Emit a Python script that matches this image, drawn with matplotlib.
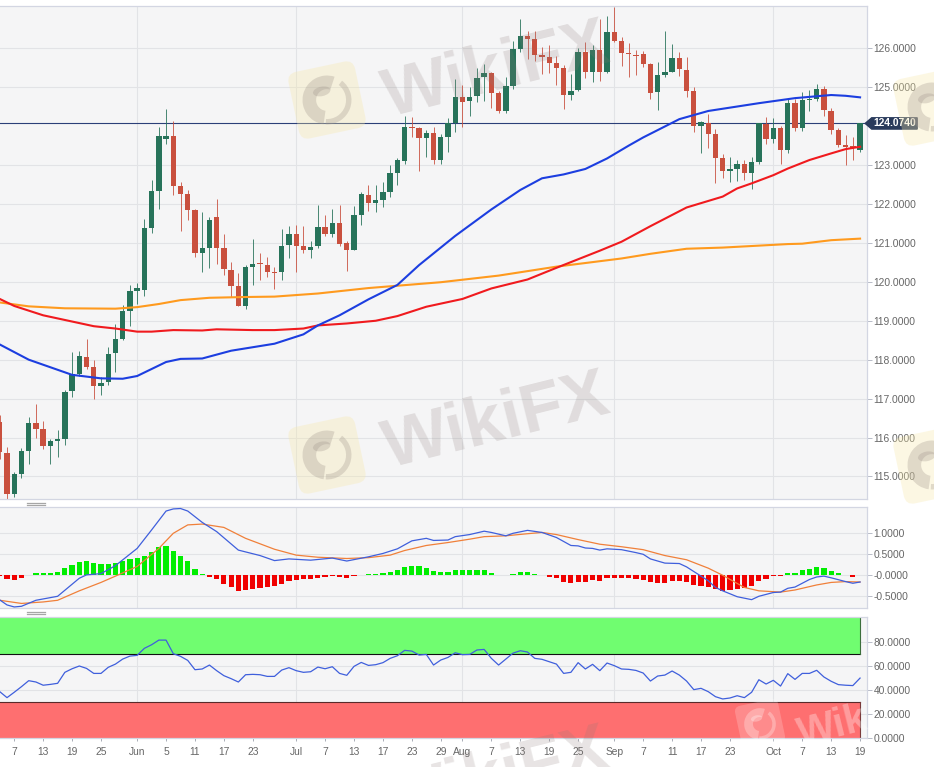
# daily candles with moving averages, MACD and RSI panels
import matplotlib
matplotlib.use("Agg")
import numpy as np
import matplotlib.pyplot as plt
from matplotlib.patches import FancyBboxPatch, Ellipse, Polygon, Wedge
from matplotlib.transforms import Affine2D

plt.rcParams['font.family'] = ['Liberation Sans', 'DejaVu Sans']

candle_open = [116.40,115.59,114.56,115.07,115.66,116.36,116.21,115.79,115.90,115.97,
               117.19,117.64,118.07,117.82,117.33,117.43,118.16,118.54,119.26,119.76,
               119.79,121.38,122.33,123.66,123.75,122.46,122.25,121.84,120.75,120.88,
               121.67,120.88,120.30,119.90,119.38,120.39,120.47,120.43,120.25,120.25,
               120.94,121.24,120.92,120.83,120.92,121.40,121.22,121.52,120.99,120.83,
               121.71,122.24,122.02,122.10,122.32,122.79,123.11,123.99,123.94,123.70,
               123.82,123.12,123.72,124.07,124.74,124.64,124.77,125.27,125.36,124.84,
               124.38,125.02,125.97,126.32,126.23,125.83,125.77,125.61,125.49,124.80,
               124.93,125.90,125.38,125.96,125.40,126.41,126.20,125.87,125.83,125.85,
               125.60,124.88,125.31,125.40,125.75,125.44,124.91,124.01,124.09,123.81,
               123.19,122.85,122.89,123.03,122.80,123.09,124.06,123.68,123.95,123.40,
               124.59,123.94,124.66,124.69,124.95,124.40,123.90,123.51,123.47,123.40]
candle_high = [116.57,115.76,115.12,115.72,116.53,116.85,116.42,115.95,116.19,117.23,
               118.20,118.23,118.52,117.99,117.56,118.33,118.91,119.40,119.92,119.98,
               121.61,122.61,123.99,124.43,124.12,122.57,122.36,121.86,121.80,121.66,
               122.13,121.23,120.52,120.22,120.43,121.09,120.75,120.64,120.39,121.36,
               121.44,121.46,121.43,121.06,121.97,121.71,121.87,121.97,121.06,121.96,
               122.32,122.50,122.50,122.57,123.00,123.17,124.27,124.24,123.99,123.90,
               123.99,123.81,124.20,125.20,125.05,125.00,125.50,125.60,125.40,124.91,
               125.27,126.20,126.75,126.45,126.45,126.04,126.09,125.79,125.57,125.34,
               126.02,126.15,126.09,126.75,126.84,127.05,126.30,126.13,125.96,125.94,
               125.63,125.66,126.45,126.10,125.90,125.77,125.01,124.13,124.30,123.92,
               123.28,123.20,123.14,123.14,123.21,124.09,124.23,124.21,124.00,124.71,
               124.69,124.88,124.93,125.08,125.03,124.47,123.96,123.77,123.71,124.07]
candle_low = [115.46,114.43,114.47,114.97,115.31,116.00,115.70,115.33,115.49,115.80,
              117.04,117.58,117.75,117.00,117.09,117.34,117.69,118.50,118.86,119.43,
              119.63,121.26,121.86,123.54,122.22,121.31,121.60,120.64,120.26,120.35,
              120.47,120.17,119.62,119.37,119.30,119.91,120.04,120.13,119.82,120.04,
              120.60,120.26,120.73,120.60,120.86,121.18,121.14,120.92,120.28,120.83,
              121.46,121.83,121.80,121.91,122.19,122.48,123.04,123.71,122.85,123.21,
              123.02,123.02,123.33,123.84,123.99,124.26,124.63,124.65,124.47,124.33,
              124.35,124.95,125.91,125.72,125.67,125.34,125.37,125.06,124.43,124.67,
              124.91,125.25,125.14,125.17,125.37,126.17,125.55,125.27,125.31,125.51,
              124.70,124.41,125.27,125.38,125.29,124.76,123.86,123.32,123.43,122.53,
              122.66,122.57,122.60,122.62,122.38,123.04,123.54,123.56,123.03,123.32,
              123.88,123.87,124.38,124.65,124.27,123.80,123.47,123.01,123.13,123.33]
candle_close = [115.63,114.56,115.06,115.66,116.38,116.23,115.79,115.90,115.96,117.17,
                117.63,118.09,117.82,117.33,117.39,118.14,118.54,119.26,119.76,119.85,
                121.38,122.33,123.75,123.74,122.47,122.25,121.84,120.75,120.87,121.60,
                120.88,120.32,119.90,119.38,120.37,120.46,120.45,120.25,120.23,120.93,
                121.24,120.92,120.82,120.90,121.40,121.22,121.52,120.97,120.83,121.72,
                122.25,122.02,122.09,122.32,122.79,123.12,123.99,123.94,123.70,123.82,
                123.12,123.71,124.07,124.74,124.63,124.76,125.25,125.36,124.84,124.38,
                125.02,125.97,126.32,126.23,125.83,125.77,125.61,125.49,124.80,124.91,
                125.90,125.38,125.96,125.40,126.41,126.20,125.89,125.85,125.79,125.60,
                124.86,125.31,125.38,125.76,125.46,124.91,124.01,124.10,123.81,123.19,
                122.85,122.90,123.03,122.80,123.09,124.07,123.68,123.95,123.40,124.59,
                123.94,124.66,124.67,124.95,124.41,123.90,123.51,123.46,123.45,124.07]

ma_blue_idx = [0,4,10,14,17,19,21,23,25,28,32,38,42,44,47,51,55,58,63,68,72,75,78,81,84,87,89,94,98,105,110,115,117,119]
ma_blue = [118.39,118.00,117.61,117.52,117.51,117.58,117.76,117.94,118.02,118.03,118.23,118.41,118.65,118.88,
           119.14,119.55,119.92,120.43,121.18,121.86,122.36,122.66,122.76,122.90,123.17,123.50,123.71,124.18,
           124.39,124.59,124.72,124.80,124.78,124.74]
ma_red_idx = [0,2,6,9,13,16,19,21,24,28,30,35,38,42,44,48,52,55,59,64,68,73,77,83,86,90,95,100,102,104,107,109,112,115,117,119]
ma_red = [119.56,119.38,119.14,119.02,118.86,118.80,118.72,118.72,118.76,118.75,118.78,118.76,118.76,118.80,118.88,
          118.93,119.00,119.12,119.36,119.56,119.83,120.06,120.36,120.80,121.03,121.43,121.91,122.19,122.40,122.53,
          122.74,122.91,123.13,123.30,123.41,123.47]
ma_orange_idx = [0,4,9,16,19,22,25,29,34,38,44,51,61,69,77,86,90,95,100,104,109,111,115,119]
ma_orange = [119.47,119.37,119.32,119.31,119.35,119.43,119.53,119.59,119.61,119.62,119.70,119.84,119.99,120.16,
             120.39,120.60,120.72,120.85,120.88,120.92,120.97,120.98,121.07,121.11]

macd_idx = [0,1,2,3,5,8,11,12,14,16,19,21,23,24,25,26,28,30,33,36,38,40,43,46,48,51,53,55,57,59,60,62,63,65,
            67,68,70,71,73,75,77,79,80,81,82,83,84,86,88,89,90,92,94,95,97,98,99,100,102,104,105,107,108,109,110,
            112,113,114,115,117,118,119]
macd_line = [-0.587,-0.706,-0.754,-0.738,-0.595,-0.50,-0.07,0.01,0.04,0.23,0.64,1.08,1.53,1.58,1.59,1.53,1.26,1.04,
             0.60,0.47,0.35,0.39,0.36,0.41,0.34,0.44,0.52,0.63,0.82,0.88,0.83,0.84,0.92,0.97,
             1.05,1.02,0.94,1.00,1.07,1.02,0.90,0.71,0.70,0.65,0.64,0.60,0.63,0.61,0.54,0.50,0.39,0.29,0.28,0.20,
             -0.02,-0.13,-0.29,-0.37,-0.51,-0.58,-0.50,-0.41,-0.40,-0.31,-0.28,-0.10,-0.04,-0.02,-0.06,-0.15,-0.19,-0.16]
signal_idx = [0,3,6,8,11,14,16,19,22,24,26,28,31,34,38,41,44,48,51,54,56,59,62,65,
              67,70,73,75,77,80,83,86,89,92,95,98,100,103,105,108,110,113,115,117,119]
signal_line = [-0.595,-0.67,-0.635,-0.595,-0.37,-0.17,-0.02,0.21,0.64,1.00,1.20,1.22,1.14,0.88,0.62,0.48,0.43,0.40,
               0.42,0.48,0.59,0.71,0.78,0.86,0.92,0.94,0.99,1.02,0.97,0.85,0.74,0.68,0.61,0.47,0.37,0.17,0.0,
               -0.29,-0.37,-0.40,-0.35,-0.23,-0.17,-0.15,-0.16]
macd_hist = [-0.01,-0.10,-0.11,-0.07,0.01,0.06,0.06,0.06,0.08,0.17,0.25,0.32,0.34,0.29,0.27,0.28,0.30,0.35,0.39,0.40,
             0.47,0.56,0.67,0.70,0.59,0.46,0.33,0.14,0.02,-0.03,-0.10,-0.21,-0.29,-0.37,-0.35,-0.32,-0.30,-0.28,-0.26,-0.21,
             -0.13,-0.11,-0.10,-0.09,-0.06,-0.05,-0.02,-0.04,-0.06,-0.02,0.01,0.02,0.04,0.06,0.08,0.13,0.20,0.21,0.21,0.17,
             0.10,0.08,0.09,0.12,0.12,0.12,0.13,0.12,0.06,0.0,0.0,0.03,0.07,0.07,0.04,0.01,-0.05,-0.06,-0.16,-0.19,
             -0.16,-0.16,-0.12,-0.14,-0.07,-0.06,-0.06,-0.07,-0.09,-0.11,-0.17,-0.18,-0.18,-0.13,-0.13,-0.16,-0.24,-0.26,-0.29,-0.33,
             -0.37,-0.36,-0.33,-0.30,-0.26,-0.14,-0.09,-0.02,-0.02,0.06,0.06,0.12,0.16,0.19,0.17,0.11,0.06,0.0,-0.04,0.0]
rsi = [38.5,33.5,38.0,42.7,47.7,46.6,43.9,44.6,45.5,54.7,57.7,60.0,58.0,53.8,53.8,58.9,61.6,65.8,68.3,68.9,
       74.8,77.8,81.7,81.7,70.3,68.1,64.7,56.9,57.5,60.8,56.1,51.9,49.4,46.6,52.7,53.0,52.7,51.3,51.3,56.6,
       58.6,56.1,54.7,55.2,59.1,57.7,59.4,53.8,52.2,59.7,63.0,60.5,61.1,62.8,66.4,68.6,73.1,72.5,69.2,69.7,
       60.8,65.0,67.2,71.1,69.5,69.7,73.4,73.9,66.4,60.8,65.8,70.8,72.8,71.7,66.4,65.6,63.6,61.6,53.8,54.7,
       62.8,57.5,61.4,56.1,62.5,60.3,57.5,57.2,56.3,54.1,47.4,51.6,52.4,55.8,52.4,47.4,40.2,41.3,38.5,34.3,
       32.4,33.2,35.1,33.5,38.0,48.5,44.9,48.0,43.2,53.6,48.8,53.8,53.8,56.4,50.8,47.2,44.4,43.9,43.6,49.9]

tick_idx = [2,6,10,14,19,23,27,31,35,41,45,49,53,57,61,64,68,72,76,80,85,89,93,97,101,107,111,115,119]
tick_labels = ['7','13','19','25','Jun','5','11','17','23','Jul','7','13','17','23','29','Aug',
               '7','13','19','25','Sep','7','11','17','23','Oct','7','13','19']
month_idx = [19,41,64,85,107]
price_ticks = [115,116,117,118,119,120,121,122,123,125,126]
macd_ticks = [-0.5,0.0,0.5,1.0]
macd_tick_labels = ['-0.5000','-0.0000','0.5000','1.0000']
rsi_ticks = [0,20,40,60,80]

W, H = 934, 767
CUP = '#27735a'
CDN = '#c9503e'
GRID = '#e2e3e6'
EDGE = '#d3d6e2'
TXT = '#666666'
x = np.arange(len(candle_close))
last_price = candle_close[-1]

fig = plt.figure(figsize=(W/100, H/100), dpi=100, facecolor='white')

def panel(top, bottom, ylim, ticks, labels):
    ax = fig.add_axes([0, 1-bottom/H, 866.5/W, (bottom-top)/H], facecolor='#f5f5f6')
    ax.set_xlim(0.03, 119.89)
    ax.set_ylim(*ylim)
    ax.yaxis.tick_right()
    ax.set_yticks(ticks)
    ax.set_yticklabels(labels)
    ax.tick_params(axis='y', length=3.6, width=0.7, color='#b8bcc8', labelcolor=TXT, labelsize=7.4, pad=1.5)
    ax.set_xticks(tick_idx)
    ax.tick_params(axis='x', length=0, labelbottom=False)
    ax.grid(False)
    for t in ticks:
        ax.axhline(t, color=GRID, lw=0.8, zorder=0)
    for m in month_idx:
        ax.axvline(m, color=GRID, lw=0.8, zorder=0)
    for s in ax.spines.values():
        s.set_color(EDGE)
        s.set_linewidth(0.9)
    ax.spines['left'].set_visible(False)
    return ax

# price panel
ax1 = panel(5.5, 499, (114.42, 127.10), price_ticks, [f'{p:.4f}' for p in price_ticks])
ax1.axhline(last_price, color='#2b3f78', lw=0.8, zorder=1)
for i in x:
    col = CUP if candle_close[i] >= candle_open[i] else CDN
    ax1.vlines(i, candle_low[i], candle_high[i], color=col, lw=0.7, alpha=0.85, zorder=2)
    lo, hi = sorted((candle_open[i], candle_close[i]))
    ax1.bar(i, max(hi-lo, 0.03), bottom=lo, width=0.74, color=col, lw=0, zorder=3)
ax1.plot(ma_orange_idx, ma_orange, color='#ff9a1e', lw=1.5, zorder=4, solid_joinstyle='round')
ax1.plot(ma_red_idx, ma_red, color='#f01a1e', lw=1.5, zorder=4, solid_joinstyle='round')
ax1.plot(ma_blue_idx, ma_blue, color='#1c3ee0', lw=1.5, zorder=4, solid_joinstyle='round')

# last price tag
ytag = 0.145
tag = Polygon([(0.9985, last_price), (1.006, last_price+ytag), (1.0585, last_price+ytag),
               (1.0585, last_price-ytag), (1.006, last_price-ytag)],
              closed=True, transform=ax1.get_yaxis_transform(), clip_on=False, color='#2a3b5c', zorder=6)
ax1.add_patch(tag)
ax1.text(1.0075, last_price, f'{last_price+0.004:.4f}', transform=ax1.get_yaxis_transform(), color='white',
         fontsize=7.4, fontweight='bold', va='center', ha='left', zorder=7, clip_on=False)

# MACD panel
ax2 = panel(507.3, 608.3, (-0.786, 1.619), macd_ticks, macd_tick_labels)
hist_cols = ['#00ee00' if v >= 0 else '#f00000' for v in macd_hist]
ax2.bar(x, macd_hist, width=0.72, color=hist_cols, lw=0, zorder=2)
ax2.plot(signal_idx, signal_line, color='#f0803a', lw=0.9, zorder=3)
ax2.plot(macd_idx, macd_line, color='#3f5fdc', lw=0.9, zorder=4)

# RSI panel
ax3 = panel(616.7, 738.3, (-0.56, 101.3), rsi_ticks, [f'{r:.4f}' for r in rsi_ticks])
ax3.fill_between([0.03, 119], 70, 100, color='#70fd70', lw=0, zorder=1)
ax3.fill_between([0.03, 119], 0, 30, color='#fe6f70', lw=0, zorder=1)
ax3.plot([0.03, 119], [70, 70], color='#111111', lw=0.8, zorder=2)
ax3.plot([0.03, 119], [30, 30], color='#5a2a2a', lw=0.8, zorder=2)
ax3.plot([119, 119], [70, 100], color='#3c6e3c', lw=0.8, zorder=2)
ax3.plot([119, 119], [0, 30], color='#7a3a3a', lw=0.8, zorder=2)
ax3.plot(x, rsi, color='#3f5fdc', lw=0.9, zorder=3)
ax3.tick_params(axis='x', length=2.5, width=0.7, color='#a8acb6', labelbottom=True, labelcolor=TXT, labelsize=7.4, pad=3.5)
ax3.set_xticklabels(tick_labels)

# drag handles between the panels
for yh in (504, 613):
    for dy in (-1, 1):
        fig.add_artist(plt.Line2D([27/W, 45/W], [1-(yh+dy)/H]*2, color='#a6a6a6', lw=0.9))

# watermarks
def logo(cx, cy, size, col, alpha, eye, eye_alpha):
    tr = Affine2D().rotate_deg_around(cx, H-cy, 12)
    box = FancyBboxPatch((cx-size/2, H-cy-size/2), size, size, boxstyle=f'round,pad=0,rounding_size={size*0.14}',
                         fc=col, ec='none', alpha=alpha, transform=tr, zorder=5)
    fig.add_artist(box)
    fig.add_artist(Wedge((cx, H-cy), size*0.36, 60, 250, width=size*0.2, fc=eye, ec='none', alpha=eye_alpha, transform=tr, zorder=5))
    fig.add_artist(Wedge((cx, H-cy), size*0.36, 255, 40, width=size*0.08, fc=eye, ec='none', alpha=eye_alpha, transform=tr, zorder=5))
    fig.add_artist(Ellipse((cx-size*0.05, H-cy+size*0.14), size*0.26, size*0.14, fc=eye, ec='none', alpha=eye_alpha, transform=tr, zorder=5))

def mark(cx, cy, txt, col, alpha, size=50):
    fig.text(cx/W, 1-cy/H, txt, fontsize=size, fontweight='bold', color=col, alpha=alpha,
             rotation=14, ha='center', va='center', zorder=5)

for cx, cy in ((327, 100), (327, 455), (932, 107), (932, 465)):
    logo(cx, cy, 68, '#f7e8a8', 0.32, '#a59a90', 0.32)
logo(760, 724, 44, '#ffffff', 0.2, '#ffffff', 0.28)
mark(497, 72, 'WikiFX', '#8a7a78', 0.2)
mark(497, 423, 'WikiFX', '#8a7a78', 0.2)
mark(497, 778, 'WikiFX', '#8a7a78', 0.2)
mark(833, 727, 'Wik', '#ffffff', 0.32, size=29)

fig.savefig('out.png', dpi=100, facecolor='white')
